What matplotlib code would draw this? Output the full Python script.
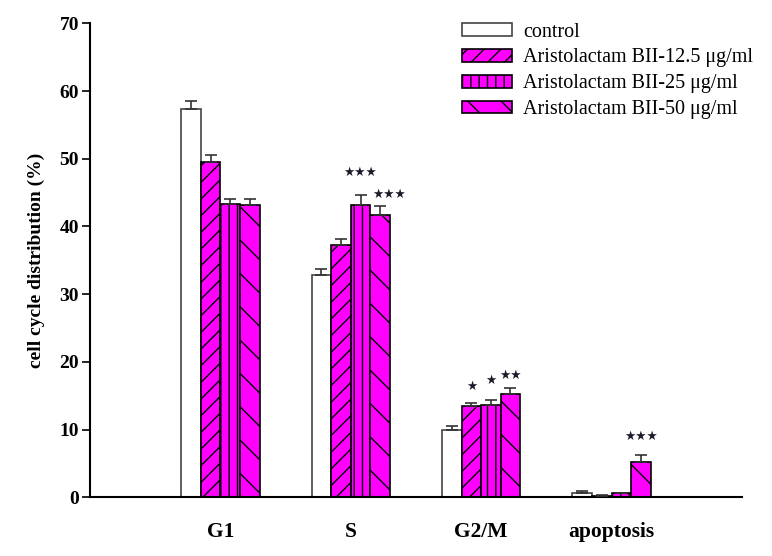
import matplotlib.pyplot as plt
import numpy as np

plt.rcParams['font.family'] = ['Liberation Serif', 'DejaVu Serif']
plt.rcParams['hatch.linewidth'] = 1.0

phases = ['G1', 'S', 'G2/M', 'apoptosis']
groups = ['control', 'Aristolactam BII-12.5 \u03bcg/ml',
          'Aristolactam BII-25 \u03bcg/ml', 'Aristolactam BII-50 \u03bcg/ml']
means = [
    [57.4, 32.8, 9.9, 0.6],
    [49.5, 37.2, 13.5, 0.2],
    [43.3, 43.1, 13.7, 0.6],
    [43.1, 41.7, 15.2, 5.2],
]
errs = [
    [1.2, 0.9, 0.6, 0.4],
    [1.0, 1.0, 0.4, 0.15],
    [0.7, 1.5, 0.7, 0.1],
    [0.9, 1.3, 1.0, 1.0],
]
# significance marks: (phase index, group index, number of stars, y)
stars = [(1, 2, 3, 48.0), (1, 3, 3, 44.7), (2, 1, 1, 16.4),
         (2, 2, 1, 17.3), (2, 3, 2, 18.0), (3, 3, 3, 9.0)]

faces = ['white', '#ff00ff', '#ff00ff', '#ff00ff']
edges = ['#444444', 'black', 'black', 'black']
hatches = [None, '//', '||', '\\']

fig = plt.figure(figsize=(7.72, 5.56), dpi=100)
ax = fig.add_axes([0.1166, 0.1056, 0.8444, 0.8524])

x = np.arange(len(phases))
w = 0.15
for i in range(len(groups)):
    pos = x + (i - 1.5) * w
    ax.bar(pos, means[i], width=w, color=faces[i], edgecolor=edges[i],
           hatch=hatches[i], linewidth=1.2, label=groups[i], zorder=2)
    ax.errorbar(pos, means[i], yerr=[np.zeros(len(phases)), errs[i]],
                fmt='none', ecolor='#333333', elinewidth=1.2, capsize=4,
                capthick=1.2, zorder=3)

for p, g, n, yv in stars:
    xo = 0.07 if (p == 1 and g == 3) else 0
    ax.text(x[p] + (g - 1.5) * w + xo, yv, '\u2605' * n, ha='center',
            va='center', fontsize=9, color='#1a1a2a', family='DejaVu Sans')

ax.set_xlim(-1, 4)
ax.set_ylim(0, 70)
ax.set_yticks(range(0, 71, 10))
ax.set_xticks(x)
ax.set_xticklabels(phases, fontsize=15.5, fontweight='bold')
ax.tick_params(axis='x', length=0, pad=18)
ax.tick_params(axis='y', length=6, width=1.2, pad=2, labelsize=14)
for lab in ax.get_yticklabels():
    lab.set_fontweight('bold')
ax.set_ylabel('cell cycle distribution (%)', fontsize=14, fontweight='bold',
              labelpad=10)
for s in ['top', 'right']:
    ax.spines[s].set_visible(False)
ax.spines['left'].set_linewidth(1.5)
ax.spines['bottom'].set_linewidth(1.5)

ax.legend(loc='upper right', bbox_to_anchor=(1.023, 1.01), frameon=False,
          fontsize=14.5, handlelength=2.45, handleheight=0.6,
          labelspacing=0.34, handletextpad=0.55, borderpad=0.2,
          borderaxespad=0)

fig.savefig('out.png', dpi=100)
